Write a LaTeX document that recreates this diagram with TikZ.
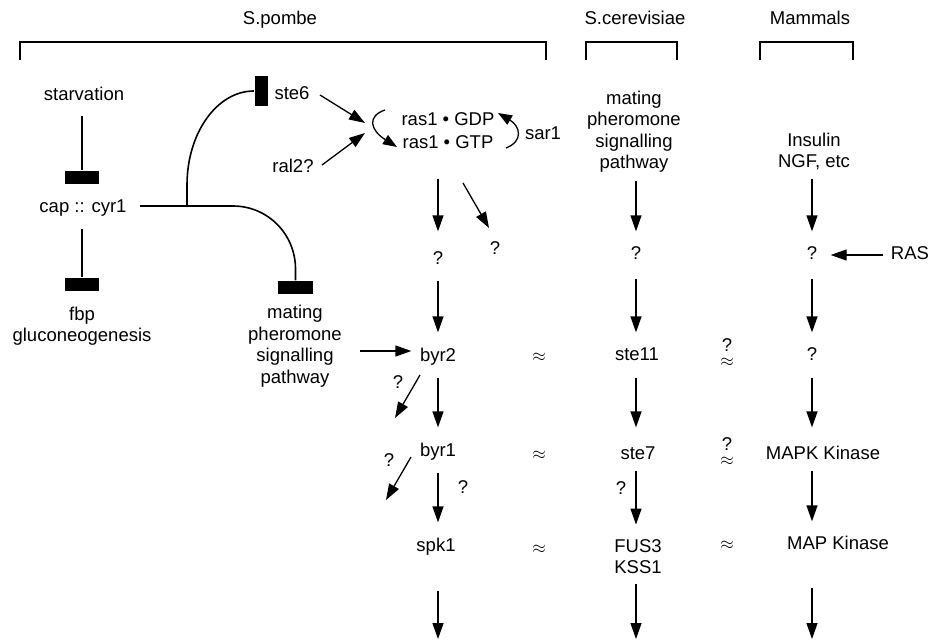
\documentclass[tikz,border=0pt]{standalone}
\usepackage{fontspec}
\setmainfont{Liberation Sans}
\usetikzlibrary{arrows.meta}
\begin{document}
\begin{tikzpicture}[x=1pt,y=-1pt,
  line width=1.3pt,
  txt/.style={font=\fontsize{18.5}{21.5}\selectfont, inner sep=0pt, text height=13.5pt, text depth=4pt},
  blk/.style={font=\fontsize{18.5}{21.5}\selectfont, inner sep=0pt, align=center},
  apx/.style={font=\fontsize{16}{16}\selectfont, inner sep=0pt},
  arr/.style={-{Triangle[length=16pt,width=11pt]}},
  carr/.style={-{Triangle[length=14pt,width=10.5pt]}},
  inh/.style={line width=1.6pt},
  hbar/.style={fill=black, inner sep=0pt, minimum width=34pt, minimum height=13pt},
  vbar/.style={fill=black, inner sep=0pt, minimum width=13pt, minimum height=30pt},
  brk/.style={line width=1.1pt},
  vstep/.style={shorten <=11.25pt, shorten >=15.25pt}
]
\useasboundingbox (0,0) rectangle (934,640);

% headings and brackets
\node[txt] (tPombe) at (280,20) {S.pombe};
\node[txt] (tCer) at (635,20) {S.cerevisiae};
\node[txt] (tMam) at (810,20) {Mammals};
\draw[brk] (20,60) |- (546,42) -- (546,60);
\draw[brk] (586,60) |- (677,42) -- (677,60);
\draw[brk] (760,60) |- (853,42) -- (853,60);

% left part
\node[txt] (starv) at (84,96) {starvation};
\node[hbar] (bar1) at (82,177.5) {};
\node[txt] (cap) at (83,208) {cap :: cyr1};
\node[hbar] (bar2) at (82,284.5) {};
\node[blk] (fbp) at (82,326) {fbp\\gluconeogenesis};
\draw[inh, shorten <=10.25pt] (starv.south -| bar1) -- (bar1.north);
\draw[inh, shorten <=11.25pt] (cap.south -| bar2) -- (bar2.north);

\node[vbar] (ste6bar) at (261,91) {};
\node[txt] (ste6) at (292,95) {ste6};
\node[txt] (ral2) at (293,168) {ral2?};
\node[hbar, minimum width=35pt] (bar3) at (295.5,287.5) {};
\node[blk] (matL) at (295,346) {mating\\pheromone\\signalling\\pathway};

\coordinate (br) at (187,206);
\draw[inh] ([xshift=13pt]cap.east |- br) -- (br) -- (187,185)
  .. controls (187,133) and (217,91) .. (ste6bar.west);
\draw[inh] (br) -- (233,206) .. controls (267.8,206) and (295.5,234.2) .. (295.5,269) -- (bar3.north);

% ras cycle
\node[txt] (GDP) at (448,121) {ras1 • GDP};
\node[txt] (GTP) at (448,144) {ras1 • GTP};
\node[txt] (sar1) at (543,135) {sar1};
\coordinate (s6a) at (320,95);
\coordinate (s6b) at (365,123);
\coordinate (r2a) at (322,165);
\coordinate (r2b) at (365,133);
\draw[arr] (s6a) -- (s6b);
\draw[arr] (r2a) -- (r2b);
\coordinate (lcA) at (385,110);
\coordinate (lcB) at (397,147);
\coordinate (rcA) at (506,148);
\coordinate (rcB) at (498,113);
\draw[carr] (lcA) .. controls (367,116) and (370,130) .. (lcB);
\draw[carr] (rcA) .. controls (524,141) and (520,126) .. (rcB);

% S.pombe column
\node[txt] (q1) at (438,260) {?};
\node[txt] (q2) at (495,250) {?};
\node[txt] (byr2) at (438,357) {byr2};
\node[txt] (byr1) at (438,452) {byr1};
\node[txt] (spk1) at (436,547) {spk1};
\node[txt] (qa) at (398,384) {?};
\node[txt] (qb) at (389,462) {?};
\node[txt] (qc) at (463,489) {?};
\coordinate (e1) at (438,639);

\draw[arr, shorten <=25.25pt, shorten >=19.25pt] (q1 |- GTP.south) -- (q1);
\coordinate (d1s) at (463,183);
\coordinate (d1e) at (489,228);
\draw[arr] (d1s) -- (d1e);
\draw[arr, vstep] (q1) -- (byr2);
\draw[arr, vstep] (byr2) -- (byr1);
\draw[arr, vstep] (byr1) -- (spk1.north -| byr1);
\draw[arr, shorten <=34.25pt] (spk1.south -| e1) -- (e1);
\coordinate (d2s) at (420,375);
\coordinate (d2e) at (395,418);
\draw[arr] (d2s) -- (d2e);
\coordinate (d3s) at (411,457);
\coordinate (d3e) at (386,500);
\draw[arr] (d3s) -- (d3e);
\coordinate (hm1) at (360,351);
\draw[arr, shorten >=8pt] (hm1) -- (byr2.west |- hm1);

% approx column
\node[apx] (ap1) at (539,357) {$\approx$};
\node[apx] (ap2) at (539,455) {$\approx$};
\node[apx] (ap3) at (539,549) {$\approx$};

% S.cerevisiae column
\node[blk] (matC) at (634,131.5) {mating\\pheromone\\signalling\\pathway};
\node[txt] (qC) at (636,255) {?};
\node[txt] (ste11) at (637,356) {ste11};
\node[txt] (ste7) at (638,455) {ste7};
\node[txt] (qD) at (621,490) {?};
\node[blk] (fus) at (638,556.5) {FUS3\\KSS1};
\coordinate (e2) at (636,639);
\draw[arr, shorten <=8pt, shorten >=14.25pt] (matC.south -| qC) -- (qC);
\draw[arr, shorten <=14.25pt, shorten >=14.25pt] (qC) -- (qC |- ste11.north);
\draw[arr, shorten <=12.25pt, shorten >=18.25pt] (qC |- ste11.south) -- (qC |- ste7.north);
\draw[arr, shorten <=6.25pt, shorten >=14pt] (qC |- ste7.south) -- (qC |- fus.north);
\draw[arr, shorten <=10pt] (fus.south -| e2) -- (e2);

% second approx column: "?" stacked over the approx sign
\node[blk] (qax1) at (727,353) {?\\[-6.5pt]{\fontsize{16}{16}\selectfont$\approx$}};
\node[blk] (qax2) at (727,452) {?\\[-6.5pt]{\fontsize{16}{16}\selectfont$\approx$}};
\node[apx] (ax3) at (727,545) {$\approx$};

% Mammals column
\node[blk] (ins) at (814,151.5) {Insulin\\NGF, etc};
\node[txt] (qM) at (812,255) {?};
\node[txt] (RAS) at (910,255) {RAS};
\node[txt] (qM2) at (812,356) {?};
\node[txt] (mapkk) at (823,455) {MAPK Kinase};
\node[txt] (mapk) at (838,545) {MAP Kinase};
\coordinate (e3) at (812,639);
\draw[arr, shorten <=8pt, shorten >=14.25pt] (ins.south -| qM) -- (qM);
\draw[arr, shorten <=14.25pt, shorten >=14.25pt] (qM) -- (qM2);
\draw[arr, shorten <=7pt, shorten >=12.85pt] (RAS) -- (qM);
\draw[arr, shorten <=12.25pt, shorten >=18.25pt] (qM2) -- (qM2 |- mapkk.north);
\draw[arr, shorten <=6.25pt, shorten >=14.25pt] (qM2 |- mapkk.south) -- (qM2 |- mapk.north);
\draw[arr, shorten <=33.25pt] (qM2 |- mapk.south) -- (e3);
\end{tikzpicture}
\end{document}
